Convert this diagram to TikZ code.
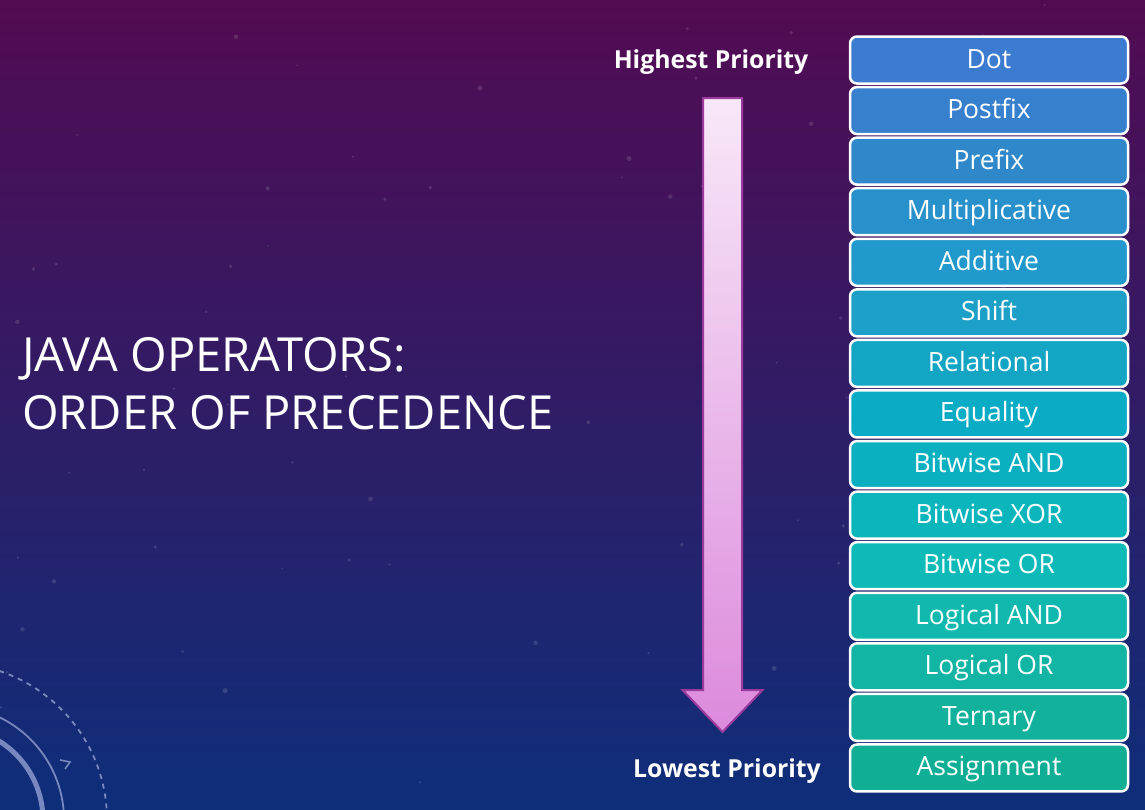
\documentclass[tikz,border=0pt]{standalone}
\usepackage{fontspec}
\setmainfont{Open Sans}
\usetikzlibrary{calc}

\definecolor{bgtop}{HTML}{520B52}
\definecolor{bgmid}{HTML}{3A1A60}
\definecolor{bgbot}{HTML}{0E2E7A}
\definecolor{arrowtop}{HTML}{F8E8F8}
\definecolor{arrowbot}{HTML}{DC8ADC}
\definecolor{arrowedge}{HTML}{9A3A9C}
\definecolor{ringcol}{HTML}{9AA8D8}

\tikzset{
  opbox/.style={draw=white, line width=2.5pt, rounded corners=7pt,
    minimum width=278pt, minimum height=47pt, text=white,
    text height=20pt, text depth=4pt,
    font=\fontsize{26.5}{30}\selectfont, inner sep=0pt},
  prio/.style={text=white, font=\fontsize{24.8}{28}\selectfont\bfseries, inner sep=0pt},
  headline/.style={text=white, font=\fontsize{47}{54}\selectfont, inner sep=0pt, anchor=base west},
  ring/.style={draw=ringcol, draw opacity=0.75}
}

\begin{document}
\begin{tikzpicture}[x=1pt,y=-1pt]
\useasboundingbox (0,0) rectangle (1145,809);

% background
\shade[top color=bgtop, middle color=bgmid, bottom color=bgbot] (0,0) rectangle (1145,809);

% faint sparkles
\pgfmathsetseed{11}
\foreach \k in {1,...,70}{
  \pgfmathsetmacro\px{rnd*1145}
  \pgfmathsetmacro\py{rnd*809}
  \pgfmathsetmacro\pr{0.8+rnd*1.8}
  \fill[white, opacity=0.12] (\px,\py) circle[radius=\pr];
}

% rings in the lower left corner
\coordinate (rc) at (-50,820);
\begin{scope}
  \clip (0,0) rectangle (1145,809);
  \draw[ring, line width=5pt] (rc) circle[radius=93];
  \draw[ring, line width=1.8pt] (rc) circle[radius=114];
  \draw[ring, line width=1.8pt, dash pattern=on 5pt off 5pt] (rc) circle[radius=157];
\end{scope}
\draw[ring, line width=1.6pt] (60,760) -- (70,762) -- (65,769);

% title
\node[headline] (t1) at (22,371) {JAVA OPERATORS:};
\node[headline] (t2) at (22,429) {ORDER OF PRECEDENCE};

% priority labels
\node[prio] (hi) at (711,62) {Highest Priority};
\node[prio] (lo) at (727,771) {Lowest Priority};

% priority arrow
\coordinate (at) at (722.5,98);
\coordinate (ab) at (722.5,732);
\shade[top color=arrowtop, bottom color=arrowbot, draw=arrowedge, line width=2pt, line join=miter]
  ($(at)+(-19.5,0)$) -- ($(at)+(19.5,0)$) -- ($(ab)+(19.5,-42)$) -- ($(ab)+(40,-42)$)
  -- (ab) -- ($(ab)+(-40,-42)$) -- ($(ab)+(-19.5,-42)$) -- cycle;

% operator boxes, highest precedence first
\foreach \i/\name/\hex in {1/Dot/3B7BD0, 2/Postfix/3680CE, 3/Prefix/2F88CA,
  4/Multiplicative/2890CB, 5/Additive/2299CC, 6/Shift/1CA0C8,
  7/Relational/14A5C4, 8/Equality/0AABC4, 9/Bitwise AND/0AB0C0,
  10/Bitwise XOR/0BB5BC, 11/Bitwise OR/0DBAB8, 12/Logical AND/10B8AE,
  13/Logical OR/12B4A4, 14/Ternary/11B19C, 15/Assignment/10AE94}{
  \definecolor{fillc}{HTML}{\hex}
  \node[opbox, fill=fillc] (op\i) at (989, {60+(\i-1)*50.57}) {\name};
}
\end{tikzpicture}
\end{document}
